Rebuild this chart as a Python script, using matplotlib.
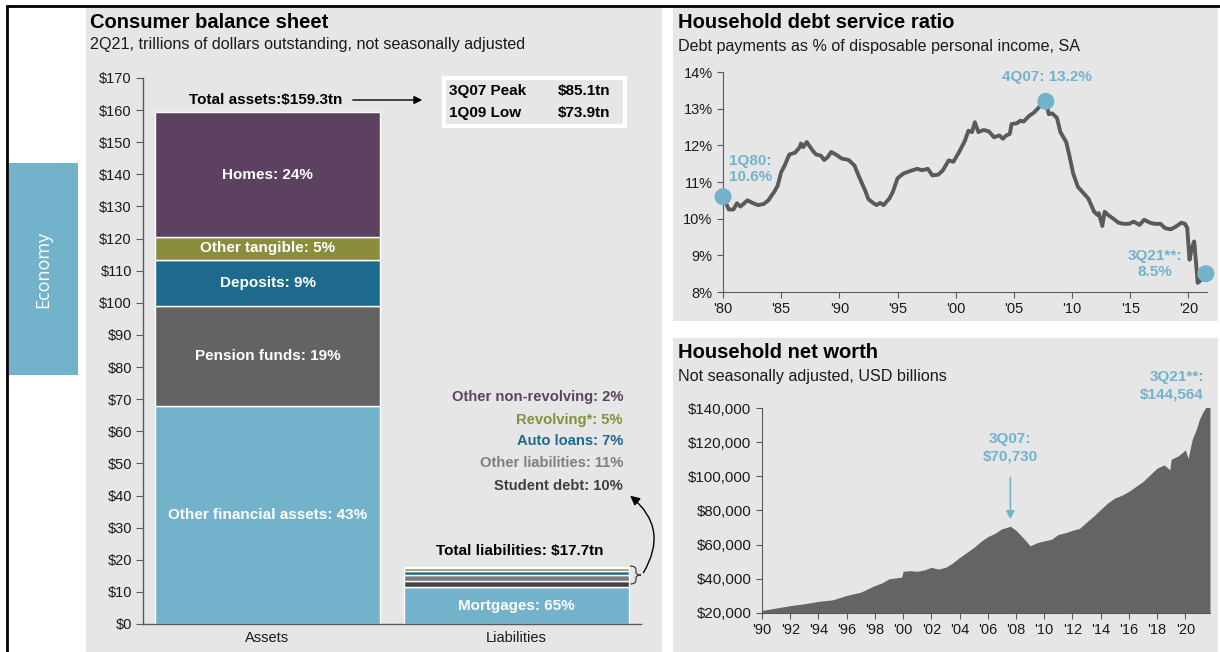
import matplotlib
matplotlib.use("Agg")
import matplotlib.pyplot as plt
from matplotlib.patches import Rectangle, FancyArrowPatch, PathPatch
from matplotlib.path import Path

plt.rcParams['font.family'] = ['Liberation Sans', 'DejaVu Sans']

# ---------------- data ----------------
asset_labels = ["Other financial assets: 43%", "Pension funds: 19%", "Deposits: 9%",
                "Other tangible: 5%", "Homes: 24%"]
asset_values = [67.9, 31.1, 14.4, 7.1, 38.8]
asset_colors = ["#72B3CB", "#636363", "#1E6A8D", "#8A8E3C", "#5C4160"]

liab_names = ["Mortgages", "Student debt", "Other liabilities", "Auto loans",
              "Revolving*", "Other non-revolving"]
liab_values = [11.5, 1.77, 1.95, 1.24, 0.89, 0.35]
liab_pcts = [65, 10, 11, 7, 5, 2]
liab_colors = ["#72B3CB", "#4A4242", "#7C7C7C", "#1E6A8D", "#8A8E3C", "#5C4160"]
liab_text_colors = [None, "#3F3F3F", "#7F7F7F", "#1E6A8D", "#8A8E3C", "#5C4160"]

bar_categories = ["Assets", "Liabilities"]
bal_yticks = list(range(0, 171, 10))

ds_years = [1980.0, 1980.5, 1980.9, 1981.2, 1981.5, 1982.1, 1982.6, 1983.0, 1983.5, 1983.9,
            1984.4, 1984.7, 1985.0, 1985.3, 1985.7, 1986.2, 1986.6, 1986.7, 1986.9, 1987.2,
            1987.7, 1988.0, 1988.4, 1988.7, 1989.0, 1989.3, 1989.8, 1990.2, 1990.8, 1991.3,
            1991.7, 1992.2, 1992.5, 1992.9, 1993.2, 1993.5, 1993.8, 1994.3, 1994.6, 1995.0,
            1995.5, 1996.1, 1996.7, 1997.1, 1997.6, 1998.0, 1998.5, 1998.9, 1999.4, 1999.8,
            2000.3, 2000.8, 2001.1, 2001.4, 2001.65, 2001.95, 2002.4, 2002.85, 2003.3, 2003.75,
            2004.05, 2004.35, 2004.65, 2004.8, 2005.25, 2005.55, 2005.85, 2006.3, 2006.75, 2007.2,
            2007.75, 2008.0, 2008.3, 2008.7, 2009.0, 2009.5, 2009.8, 2010.1, 2010.5, 2011.0,
            2011.4, 2011.9, 2012.2, 2012.3, 2012.6, 2012.8, 2013.1, 2013.5, 2014.0, 2014.4,
            2014.9, 2015.3, 2015.8, 2016.2, 2016.7, 2017.1, 2017.6, 2018.0, 2018.5, 2018.9,
            2019.4, 2019.7, 2019.9, 2020.1, 2020.3, 2020.5, 2020.8, 2021.05, 2021.5]
ds_values = [10.6, 10.25, 10.25, 10.42, 10.33, 10.5, 10.42, 10.37, 10.4, 10.5,
             10.73, 10.9, 11.27, 11.45, 11.75, 11.8, 11.95, 12.05, 11.95, 12.09,
             11.86, 11.75, 11.72, 11.6, 11.68, 11.82, 11.73, 11.64, 11.6, 11.45,
             11.14, 10.78, 10.53, 10.43, 10.37, 10.43, 10.37, 10.55, 10.73, 11.1,
             11.23, 11.3, 11.36, 11.32, 11.36, 11.18, 11.2, 11.32, 11.59, 11.55,
             11.82, 12.13, 12.4, 12.36, 12.63, 12.36, 12.42, 12.38, 12.22, 12.27,
             12.18, 12.27, 12.31, 12.58, 12.6, 12.67, 12.65, 12.8, 12.9, 13.05,
             13.2, 12.85, 12.87, 12.75, 12.36, 12.09, 11.68, 11.23, 10.87, 10.69,
             10.55, 10.19, 10.1, 10.15, 9.8, 10.19, 10.1, 10.01, 9.89, 9.86,
             9.86, 9.92, 9.83, 9.97, 9.89, 9.86, 9.86, 9.74, 9.71, 9.78,
             9.89, 9.86, 9.75, 8.88, 9.2, 9.38, 8.25, 8.32, 8.5]
ds_highlight_idx = [0, 70, len(ds_values) - 1]
ds_xticks = [1980, 1985, 1990, 1995, 2000, 2005, 2010, 2015, 2020]
ds_xticklabels = ["'80", "'85", "'90", "'95", "'00", "'05", "'10", "'15", "'20"]
ds_yticks = [8, 9, 10, 11, 12, 13, 14]

nw_years = [1990.0, 1991.0, 1992.0, 1993.0, 1994.0, 1995.0, 1996.0, 1997.0, 1998.0, 1998.5,
            1999.0, 1999.9, 2000.0, 2000.5, 2001.0, 2001.5, 2002.0, 2002.5, 2003.0, 2003.5,
            2004.0, 2004.5, 2005.0, 2005.5, 2006.0, 2006.5, 2007.0, 2007.6, 2008.0, 2008.5,
            2009.0, 2009.5, 2010.0, 2010.5, 2011.0, 2011.5, 2012.0, 2012.5, 2013.0, 2013.5,
            2014.0, 2014.5, 2015.0, 2015.5, 2016.0, 2016.5, 2017.0, 2017.5, 2018.0, 2018.5,
            2018.9, 2019.0, 2019.5, 2020.0, 2020.2, 2020.5, 2020.8, 2021.0, 2021.25, 2021.5,
            2021.75]
nw_values = [21500, 22900, 24300, 25400, 26800, 27700, 30300, 32200, 36100, 37600,
             40000, 41000, 44400, 44800, 44400, 45200, 46700, 45700, 46700, 49200,
             52500, 55400, 58300, 61800, 64700, 66600, 69300, 70730, 68400, 64100,
             59300, 61200, 62200, 63100, 66000, 67000, 68400, 69500, 73200, 76700,
             80600, 84400, 87300, 88900, 91200, 94100, 97000, 100900, 104800, 106700,
             103800, 110000, 112000, 115400, 110500, 122000, 128000, 133400, 137700, 141000,
             144564]
nw_peak_idx = 27
nw_xticks = list(range(1990, 2021, 2))
nw_xticklabels = ["'90", "'92", "'94", "'96", "'98", "'00", "'02", "'04", "'06", "'08",
                  "'10", "'12", "'14", "'16", "'18", "'20"]
nw_yticks = [20000, 40000, 60000, 80000, 100000, 120000, 140000]

# ---------------- layout ----------------
W, H = 1220, 652
BG = "#E6E6E6"
BLUE = "#72B3CB"
AX = "#595959"
TXT = "#1a1a1a"

fig = plt.figure(figsize=(W / 100, H / 100), dpi=100)
fig.patch.set_facecolor("white")


def ax_px(x0, y0, x1, y1, **kw):
    return fig.add_axes([x0 / W, 1 - y1 / H, (x1 - x0) / W, (y1 - y0) / H], **kw)


bg = ax_px(0, 0, W, H)
bg.set_xlim(0, W)
bg.set_ylim(H, 0)
bg.axis("off")
bg.set_zorder(0)

# panels
for (x0, y0, x1, y1) in [(86, 8, 662, 652), (673, 8, 1218, 321), (673, 338, 1218, 652)]:
    bg.add_patch(Rectangle((x0, y0), x1 - x0, y1 - y0, facecolor=BG, edgecolor="none"))
# borders
bg.plot([6, 1220], [5.5, 5.5], color="black", lw=2, solid_capstyle="butt")
bg.plot([6.5, 6.5], [5, 652], color="black", lw=2, solid_capstyle="butt")
# economy tab
bg.add_patch(Rectangle((9, 163), 69, 212, facecolor=BLUE, edgecolor="none"))
bg.text(43, 269, "Economy", rotation=90, color="white", fontsize=13,
        ha="center", va="center", family=["Open Sans", "DejaVu Sans"])

# titles
TS, SS = 14.5, 11.6
bg.text(90, 22, "Consumer balance sheet", fontsize=TS, fontweight="bold", color="black",
        va="center", ha="left")
bg.text(90, 45, "2Q21, trillions of dollars outstanding, not seasonally adjusted",
        fontsize=SS, color=TXT, va="center", ha="left")
bg.text(678, 22, "Household debt service ratio", fontsize=TS, fontweight="bold",
        color="black", va="center", ha="left")
bg.text(678, 46, "Debt payments as % of disposable personal income, SA", fontsize=SS,
        color=TXT, va="center", ha="left")
bg.text(678, 353, "Household net worth", fontsize=TS, fontweight="bold", color="black",
        va="center", ha="left")
bg.text(678, 377, "Not seasonally adjusted, USD billions", fontsize=SS, color=TXT,
        va="center", ha="left")

# ---------------- balance sheet ----------------
ax1 = ax_px(143, 78, 641, 624)
ax1.set_zorder(1)
ax1.patch.set_alpha(0)
ax1.set_xlim(-0.5, 1.5)
ax1.set_ylim(0, 170)

bottom = 0
for lab, v, c in zip(asset_labels, asset_values, asset_colors):
    ax1.bar(0, v, bottom=bottom, width=0.9, color=c, edgecolor="white", linewidth=1)
    ax1.text(0, bottom + v / 2, lab, color="white", fontsize=11, fontweight="bold",
             ha="center", va="center")
    bottom += v
total_assets = bottom

bottom = 0
for i, (nm, v, c) in enumerate(zip(liab_names, liab_values, liab_colors)):
    ax1.bar(1, v, bottom=bottom, width=0.9, color=c, edgecolor="white", linewidth=1)
    bottom += v
total_liab = bottom
ax1.text(1, liab_values[0] / 2, f"{liab_names[0]}: {liab_pcts[0]}%", color="white",
         fontsize=11, fontweight="bold", ha="center", va="center")

ax1.set_xticks([0, 1])
ax1.set_xticklabels(bar_categories, fontsize=10.5, color=TXT)
ax1.tick_params(axis="x", length=0, pad=5)
ax1.set_yticks(bal_yticks)
ax1.set_yticklabels([f"${t}" for t in bal_yticks], fontsize=10.5, color=TXT)
ax1.tick_params(axis="y", length=5, color=AX, pad=3)
for s in ["top", "right"]:
    ax1.spines[s].set_visible(False)
for s in ["left", "bottom"]:
    ax1.spines[s].set_color(AX)
    ax1.spines[s].set_linewidth(1)

# liability labels (in pixel space)
label_ys = [486, 463, 441, 420, 397]
for nm, p, tc, yy in zip(liab_names[1:], liab_pcts[1:], liab_text_colors[1:], label_ys):
    bg.text(623, yy, f"{nm}: {p}%", color=tc, fontsize=10.6, fontweight="bold",
            ha="right", va="center", zorder=5)
bg.text(520, 551, f"Total liabilities: ${total_liab:.1f}tn", color="black", fontsize=11,
        fontweight="bold", ha="center", va="center")
bg.text(266, 100, f"Total assets:${total_assets:.1f}tn", color="black", fontsize=11,
        fontweight="bold", ha="center", va="center")
bg.annotate("", xy=(425, 100), xytext=(350, 100),
            arrowprops=dict(arrowstyle="-|>", color="black", lw=1, mutation_scale=12))

# peak/low box
bg.add_patch(Rectangle((444, 78), 181, 48, facecolor=BG, edgecolor="white", lw=3))
bg.text(449, 91, "3Q07 Peak", fontsize=11, fontweight="bold", color="black", va="center")
bg.text(558, 91, "$85.1tn", fontsize=11, fontweight="bold", color="black", va="center")
bg.text(449, 113, "1Q09 Low", fontsize=11, fontweight="bold", color="black", va="center")
bg.text(558, 113, "$73.9tn", fontsize=11, fontweight="bold", color="black", va="center")

# brace
verts = [(630, 566), (636, 566), (636, 570), (636, 572), (636, 575), (641, 575),
         (636, 575), (636, 578), (636, 580), (636, 584), (630, 584)]
codes = [Path.MOVETO, Path.CURVE3, Path.CURVE3, Path.LINETO, Path.CURVE3, Path.CURVE3,
         Path.CURVE3, Path.CURVE3, Path.LINETO, Path.CURVE3, Path.CURVE3]
bg.add_patch(PathPatch(Path(verts, codes), facecolor="none", edgecolor="#404040", lw=0.9))
bg.add_patch(FancyArrowPatch((642, 575), (628, 494), connectionstyle="arc3,rad=0.45",
                             arrowstyle="-|>", mutation_scale=14, color="black", lw=1))

# ---------------- debt service ratio ----------------
ax2 = ax_px(723, 72, 1207, 292)
ax2.set_zorder(1)
ax2.patch.set_alpha(0)
ax2.plot(ds_years, ds_values, color="#5A5A5A", lw=2.8, solid_joinstyle="round", zorder=2)
ax2.scatter([ds_years[i] for i in ds_highlight_idx], [ds_values[i] for i in ds_highlight_idx],
            s=150, color=BLUE, zorder=3, clip_on=False, edgecolors="none")
ax2.set_xlim(1980, 2021.6)
ax2.set_ylim(8, 14)
ax2.set_xticks(ds_xticks)
ax2.set_xticklabels(ds_xticklabels, fontsize=10.5, color=TXT)
ax2.set_yticks(ds_yticks)
ax2.set_yticklabels([f"{t}%" for t in ds_yticks], fontsize=10.5, color=TXT)
ax2.tick_params(length=4, color=AX)
for s in ["top", "right"]:
    ax2.spines[s].set_visible(False)
for s in ["left", "bottom"]:
    ax2.spines[s].set_color(AX)

bg.text(729, 169, f"1Q80:\n{ds_values[0]}%", color=BLUE, fontsize=11, fontweight="bold",
        ha="left", va="center", linespacing=1.25, zorder=5)
bg.text(1047, 77, f"4Q07: {ds_values[70]}%", color=BLUE, fontsize=11, fontweight="bold",
        ha="center", va="center", zorder=5)
bg.text(1155, 264, f"3Q21**:\n{ds_values[-1]}%", color=BLUE, fontsize=11,
        fontweight="bold", ha="center", va="center", linespacing=1.25, zorder=5)

# ---------------- net worth ----------------
ax3 = ax_px(762, 408, 1210, 613)
ax3.set_zorder(1)
ax3.patch.set_alpha(0)
ax3.fill_between(nw_years, nw_values, 0, color="#646464", lw=0)
ax3.set_xlim(1990, 2021.75)
ax3.set_ylim(20000, 140000)
ax3.set_xticks(nw_xticks)
ax3.set_xticklabels(nw_xticklabels, fontsize=10.5, color=TXT)
ax3.set_yticks(nw_yticks)
ax3.set_yticklabels([f"${t:,}" for t in nw_yticks], fontsize=10.8, color=TXT)
ax3.tick_params(length=4, color=AX)
for s in ["top", "right"]:
    ax3.spines[s].set_visible(False)
for s in ["left", "bottom"]:
    ax3.spines[s].set_color(AX)

ax3.annotate("", xy=(nw_years[nw_peak_idx], nw_values[nw_peak_idx] + 2500),
             xytext=(nw_years[nw_peak_idx], 101000),
             arrowprops=dict(arrowstyle="-|>", color=BLUE, lw=1.2, mutation_scale=12))
bg.text(1010, 448, f"3Q07:\n${nw_values[nw_peak_idx]:,}", color=BLUE, fontsize=11,
        fontweight="bold", ha="center", va="center", linespacing=1.3, zorder=5)
bg.text(1204, 386, f"3Q21**:\n${nw_values[-1]:,}", color=BLUE, fontsize=11,
        fontweight="bold", ha="right", va="center", linespacing=1.3, zorder=5,
        multialignment="right")

fig.savefig("out.png", dpi=100)
